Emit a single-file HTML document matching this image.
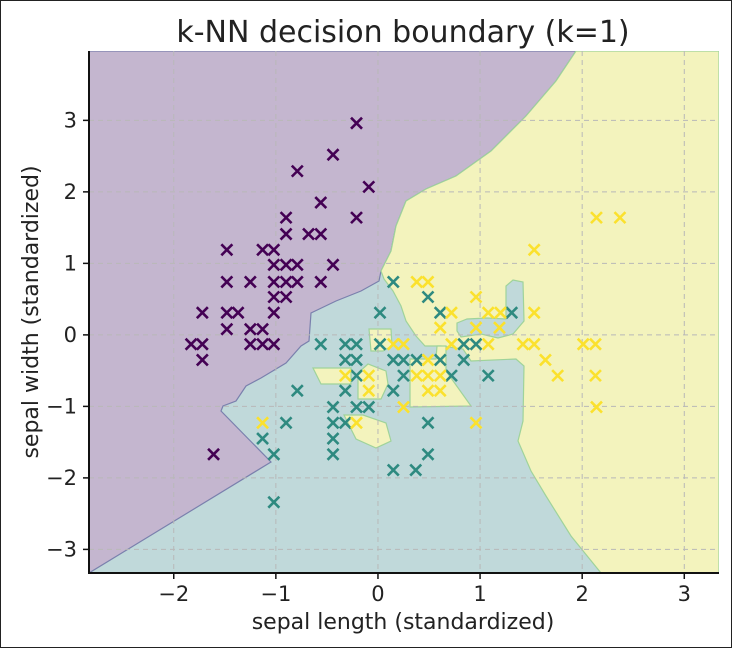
<!DOCTYPE html>
<html><head><meta charset="utf-8"><style>
body{margin:0;background:#fff;}
#wrap{width:730px;height:646px;border:1px solid #222;position:relative;background:#fff;}
svg text{font-family:"DejaVu Sans","Liberation Sans",sans-serif;fill:#222;}
</style></head><body>
<div id="wrap">
<svg id="chart" width="730" height="646">
<defs><clipPath id="clip"><rect x="88" y="50" width="630" height="522"/></clipPath></defs>
<g id="regions" clip-path="url(#clip)"></g>
<g id="grid"></g>
<g id="points" clip-path="url(#clip)"></g>
<g id="axes"></g>
<text x="402" y="41" text-anchor="middle" font-size="30">k-NN decision boundary (k=1)</text>
<text x="402" y="628" text-anchor="middle" font-size="22">sepal length (standardized)</text>
<text x="37" y="311" text-anchor="middle" font-size="22" transform="rotate(-90 37 311)">sepal width (standardized)</text>
</svg></div>
<script>
const xTicks=[-2,-1,0,1,2,3];
const yTicks=[-3,-2,-1,0,1,2,3];
const setosaX=[-0.21,-0.44,-0.79,-0.09,-0.56,-0.21,-0.90,-0.90,-0.68,-0.56,-1.48,-1.13,-1.02,-1.02,-0.90,-0.79,-0.44,-1.48,-1.25,-1.02,-0.90,-0.79,-0.56,-1.02,-0.90,-1.72,-1.48,-1.37,-1.02,-1.48,-1.25,-1.13,-1.83,-1.72,-1.25,-1.13,-1.02,-1.72,-1.61];
const setosaY=[2.96,2.52,2.29,2.07,1.85,1.64,1.64,1.41,1.41,1.41,1.19,1.19,1.19,0.98,0.98,0.98,0.98,0.74,0.74,0.74,0.74,0.74,0.74,0.53,0.53,0.31,0.31,0.31,0.31,0.08,0.08,0.08,-0.13,-0.13,-0.13,-0.13,-0.13,-0.35,-1.67];
const versiX=[0.15,0.49,0.02,0.61,1.31,-0.56,-0.32,-0.21,0.02,0.84,0.96,-0.32,-0.21,0.15,0.25,0.38,0.61,0.84,-0.21,0.25,0.72,1.08,-0.79,-0.32,0.15,-0.44,-0.21,-0.09,-0.44,-0.32,0.49,-0.44,-0.44,0.49,0.15,0.37,-0.90,-1.13,-1.02,-1.02];
const versiY=[0.74,0.53,0.31,0.31,0.31,-0.13,-0.13,-0.13,-0.13,-0.13,-0.13,-0.35,-0.35,-0.35,-0.35,-0.35,-0.35,-0.35,-0.57,-0.57,-0.57,-0.57,-0.78,-0.78,-0.78,-1.01,-1.01,-1.01,-1.23,-1.23,-1.23,-1.45,-1.67,-1.67,-1.89,-1.89,-1.23,-1.45,-1.67,-2.34];
const virgX=[0.38,0.49,0.96,0.72,1.08,1.20,1.53,0.61,0.96,1.19,0.15,0.25,0.72,1.08,1.42,1.53,2.14,2.37,1.53,0.49,1.64,1.76,2.01,2.13,2.13,2.14,-0.32,-0.09,0.38,0.49,0.61,-0.09,0.49,0.61,0.25,-0.21,0.96,-1.13];
const virgY=[0.74,0.74,0.53,0.31,0.31,0.31,0.31,0.10,0.10,0.10,-0.13,-0.13,-0.13,-0.13,-0.13,-0.13,1.64,1.64,1.19,-0.35,-0.35,-0.57,-0.13,-0.13,-0.57,-1.01,-0.57,-0.57,-0.57,-0.57,-0.57,-0.78,-0.78,-0.78,-1.01,-1.23,-1.23,-1.23];
const xMin=-2.83,xMax=3.34,yMin=-3.33,yMax=3.97;
const L=88,R=718,T=50,B=572;
const sx=v=>L+(v-xMin)/(xMax-xMin)*(R-L);
const sy=v=>B-(v-yMin)/(yMax-yMin)*(B-T);
const ns="http://www.w3.org/2000/svg";
function mk(tag,attrs,parent){const e=document.createElementNS(ns,tag);for(const k in attrs)e.setAttribute(k,attrs[k]);parent.appendChild(e);return e;}
const px2d=p=>p.map(([x,y])=>[(x-L)/(R-L)*(xMax-xMin)+xMin,yMin+(B-y)/(B-T)*(yMax-yMin)]);
const regionsG=document.getElementById('regions');
function poly(ptsPx,fill,stroke,name){
  const d=px2d(ptsPx).map(([a,b])=>sx(a).toFixed(1)+','+sy(b).toFixed(1)).join(' ');
  const e=mk('polygon',{points:d,fill:fill,stroke:stroke,'stroke-width':1.2},regionsG);
  
  
}
mk('rect',{x:L,y:T,width:R-L,height:B-T,fill:'#c0d9da'},regionsG);
poly([[88,50],[575,50],[555,80],[525,115],[490,150],[455,175],[425,188],[405,200],[395,225],[390,250],[380,270],[378,280],[360,290],[335,300],[310,312],[308,340],[300,345],[285,362],[260,377],[245,385],[235,400],[222,405],[220,410],[270,461],[88,572]],'#c4b6cf','#7a80ad','region-setosa');
poly([[575,50],[718,50],[718,572],[600,572],[570,535],[545,495],[530,470],[517,440],[522,420],[523,365],[515,358],[470,360],[462,348],[440,345],[424,345],[415,335],[405,320],[400,305],[392,290],[383,278],[380,270],[390,250],[395,225],[405,200],[425,188],[455,175],[490,150],[525,115],[555,80]],'#f3f3bd','#9fd39a','region-virginica');
poly([[409,358],[435,358],[436,345],[445,345],[445,370],[470,405],[409,406]],'#f3f3bd','#9fd39a','island-virginica-1');
poly([[368,328],[390,328],[391,345],[382,350],[370,350]],'#f3f3bd','#9fd39a','island-virginica-2');
poly([[312,367],[350,367],[350,383],[320,383]],'#f3f3bd','#9fd39a','island-virginica-3');
poly([[357,372],[367,363],[385,370],[387,383],[380,398],[357,398]],'#f3f3bd','#9fd39a','island-virginica-4');
poly([[343,414],[362,414],[385,422],[390,440],[375,447],[355,438]],'#f3f3bd','#9fd39a','island-virginica-5');
poly([[456,322],[466,318],[486,317],[505,318],[505,285],[512,279],[522,281],[523,320],[512,333],[497,337],[480,333],[460,336],[456,330]],'#c0d9da','#9fd39a','island-versicolor');
const gridG=document.getElementById('grid');
xTicks.forEach(t=>{mk('line',{x1:sx(t),x2:sx(t),y1:T,y2:B,stroke:'#b8b8b8','stroke-dasharray':'5,4','stroke-width':1},gridG);});
yTicks.forEach(t=>{mk('line',{x1:L,x2:R,y1:sy(t),y2:sy(t),stroke:'#b8b8b8','stroke-dasharray':'5,4','stroke-width':1},gridG);});
const ptsG=document.getElementById('points');
function drawX(xs,ys,color,name){
  xs.forEach((v,i)=>{
    const cx=sx(v),cy=sy(ys[i]),r=5.5;
    const e=mk('path',{d:`M${cx-r},${cy-r}L${cx+r},${cy+r}M${cx-r},${cy+r}L${cx+r},${cy-r}`,stroke:color,'stroke-width':2.6,fill:'none'},ptsG);
    
    
  });
}
drawX(setosaX,setosaY,'#440154','point-setosa');
drawX(versiX,versiY,'#2e8a80','point-versicolor');
drawX(virgX,virgY,'#fbe12d','point-virginica');
const axG=document.getElementById('axes');
mk('line',{x1:L,x2:L,y1:T,y2:B+1,stroke:'#111','stroke-width':2},axG);
mk('line',{x1:L-1,x2:R,y1:B,y2:B,stroke:'#111','stroke-width':2},axG);
xTicks.forEach(t=>{
  mk('line',{x1:sx(t),x2:sx(t),y1:B,y2:B+6,stroke:'#111','stroke-width':1.5},axG);
  const e=mk('text',{x:sx(t),y:B+28,'text-anchor':'middle','font-size':21},axG);
  e.textContent=t<0?'\u2212'+(-t):String(t);
  
  
});
yTicks.forEach(t=>{
  mk('line',{x1:L-6,x2:L,y1:sy(t),y2:sy(t),stroke:'#111','stroke-width':1.5},axG);
  const e=mk('text',{x:L-12,y:sy(t)+7,'text-anchor':'end','font-size':21},axG);
  e.textContent=t<0?'\u2212'+(-t):String(t);
  
  
});
</script>
</body></html>
